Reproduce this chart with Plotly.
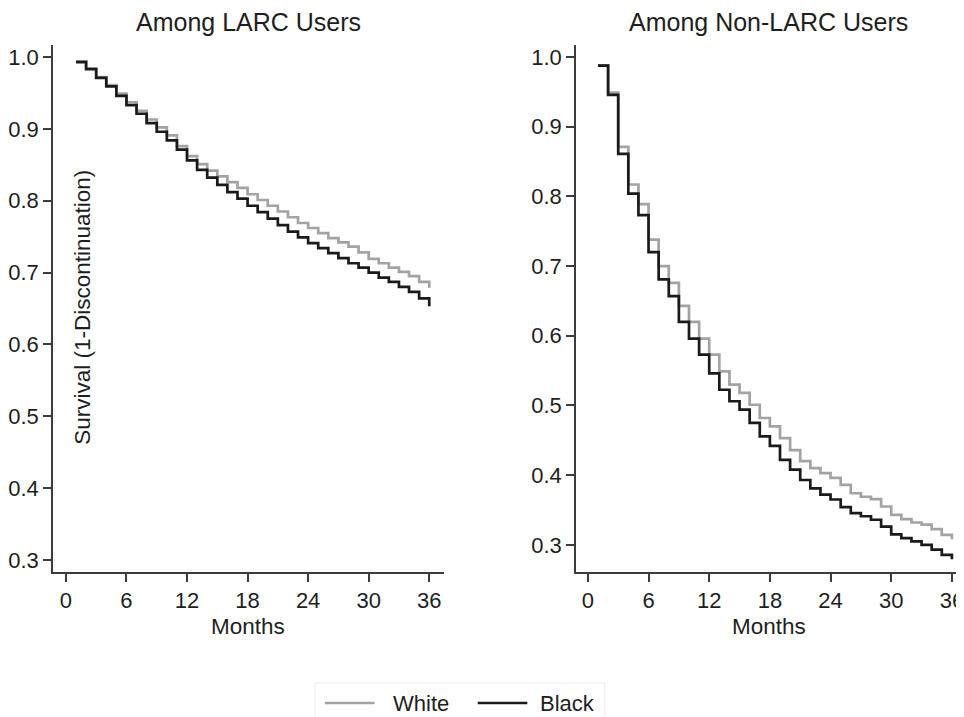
import plotly.graph_objects as go

# ---- data ----
months = list(range(1, 37))

larc_white = [0.994, 0.984, 0.972, 0.961, 0.949, 0.937, 0.925, 0.913, 0.902, 0.891,
              0.876, 0.862, 0.851, 0.842, 0.834, 0.826, 0.818, 0.809, 0.801, 0.793,
              0.785, 0.777, 0.769, 0.762, 0.755, 0.748, 0.742, 0.736, 0.728, 0.719,
              0.713, 0.707, 0.701, 0.695, 0.687, 0.679]
larc_black = [0.993, 0.983, 0.971, 0.959, 0.946, 0.933, 0.921, 0.908, 0.896, 0.884,
              0.871, 0.856, 0.843, 0.832, 0.822, 0.812, 0.803, 0.793, 0.784, 0.775,
              0.766, 0.757, 0.749, 0.741, 0.734, 0.727, 0.720, 0.713, 0.707, 0.700,
              0.693, 0.687, 0.680, 0.673, 0.664, 0.653]
nonlarc_white = [0.988, 0.949, 0.871, 0.817, 0.789, 0.738, 0.700, 0.676, 0.643, 0.620,
                 0.596, 0.573, 0.549, 0.530, 0.518, 0.501, 0.482, 0.470, 0.453, 0.436,
                 0.420, 0.410, 0.403, 0.396, 0.386, 0.374, 0.369, 0.3655, 0.355, 0.343,
                 0.337, 0.332, 0.329, 0.3225, 0.3144, 0.308]
nonlarc_black = [0.9875, 0.9455, 0.861, 0.804, 0.773, 0.720, 0.681, 0.657, 0.620, 0.596,
                 0.573, 0.546, 0.5225, 0.506, 0.494, 0.475, 0.4555, 0.442, 0.422, 0.408,
                 0.393, 0.381, 0.372, 0.365, 0.354, 0.3455, 0.341, 0.336, 0.326, 0.315,
                 0.3096, 0.305, 0.300, 0.293, 0.2856, 0.2794]

x_ticks = [0, 6, 12, 18, 24, 30, 36]
y_ticks = [0.3, 0.4, 0.5, 0.6, 0.7, 0.8, 0.9, 1.0]
panel_titles = ["Among LARC Users", "Among Non-LARC Users"]
series_names = ["White", "Black"]
x_title = "Months"
y_title = "Survival (1-Discontinuation)"

WHITE_COL = "#a3a3a3"
BLACK_COL = "#1a1a1a"
AX_COL = "#3c3c3c"
TXT_COL = "#1e1e1e"
FONT = "Liberation Sans, Arial, sans-serif"

fig = go.Figure()

panels = [("x", "y", larc_white, larc_black), ("x2", "y2", nonlarc_white, nonlarc_black)]
for xa, ya, w, b in panels:
    fig.add_trace(go.Scatter(x=months, y=w, mode="lines", line=dict(color=WHITE_COL, width=2.7, shape="hv"),
                             name=series_names[0], xaxis=xa, yaxis=ya, showlegend=False))
    fig.add_trace(go.Scatter(x=months, y=b, mode="lines", line=dict(color=BLACK_COL, width=2.7, shape="hv"),
                             name=series_names[1], xaxis=xa, yaxis=ya, showlegend=False))

axis_common = dict(showgrid=False, zeroline=False, showline=True, linecolor=AX_COL, linewidth=1.5,
                   ticks="outside", ticklen=8, tickwidth=1.5, tickcolor=AX_COL,
                   ticklabeloverflow="allow",
                   tickfont=dict(family=FONT, size=22, color=TXT_COL), mirror=False)

# the page adds an 8px body margin, so the figure is laid out 8px smaller
fig.update_layout(
    width=956, height=709,
    margin=dict(l=40, r=0, t=37, b=145),
    paper_bgcolor="white", plot_bgcolor="white",
    showlegend=False,
    xaxis=dict(domain=[0, 0.4301], range=[-1.28, 37.46], tickvals=x_ticks, anchor="y", **axis_common),
    yaxis=dict(domain=[0, 1], range=[0.2833, 1.0167], tickvals=y_ticks, tickformat=".1f", anchor="x", **axis_common),
    xaxis2=dict(domain=[0.5753, 1], range=[-1.18, 37.0], tickvals=x_ticks, anchor="y2", **axis_common),
    yaxis2=dict(domain=[0, 1], range=[0.261, 1.0172], tickvals=y_ticks, tickformat=".1f", anchor="x2", **axis_common),
)

# coordinates below are screen pixels of the reference, converted to plot-area paper fractions
def px(xp):
    return (xp - 48) / 916

def py(yp):
    return (572 - yp) / 527

for xr, t in [("x domain", panel_titles[0]), ("x2 domain", panel_titles[1])]:
    fig.add_annotation(text=t, xref=xr, x=0.5, yref="paper", y=py(22),
                       xanchor="center", yanchor="middle", showarrow=False,
                       font=dict(family=FONT, size=25, color=TXT_COL))
    fig.add_annotation(text=x_title, xref=xr, x=0.5, yref="paper", y=py(626),
                       xanchor="center", yanchor="middle", showarrow=False,
                       font=dict(family=FONT, size=22.5, color=TXT_COL))

fig.add_annotation(text=y_title, xref="x domain", x=(77 - 48) / 394, yref="paper", y=py(307),
                   xanchor="center", yanchor="middle", textangle=-90, showarrow=False,
                   font=dict(family=FONT, size=22.5, color=TXT_COL))

# legend drawn below the panels
fig.add_shape(type="rect", xref="paper", yref="paper", x0=px(312), x1=px(604), y0=py(683), y1=py(722),
              line=dict(color="#ececec", width=1), fillcolor="rgba(0,0,0,0)", layer="below")
legend_items = [(series_names[0], WHITE_COL, 322, 372, 389), (series_names[1], BLACK_COL, 476, 526, 537)]
for name, col, x0, x1, tx in legend_items:
    fig.add_shape(type="line", xref="paper", yref="paper", x0=px(x0), x1=px(x1), y0=py(703), y1=py(703),
                  line=dict(color=col, width=2.7))
    fig.add_annotation(text=name, xref="paper", x=px(tx), yref="paper", y=py(703),
                       xanchor="left", yanchor="middle", showarrow=False,
                       font=dict(family=FONT, size=22, color=TXT_COL))

fig.write_html("out.html")
